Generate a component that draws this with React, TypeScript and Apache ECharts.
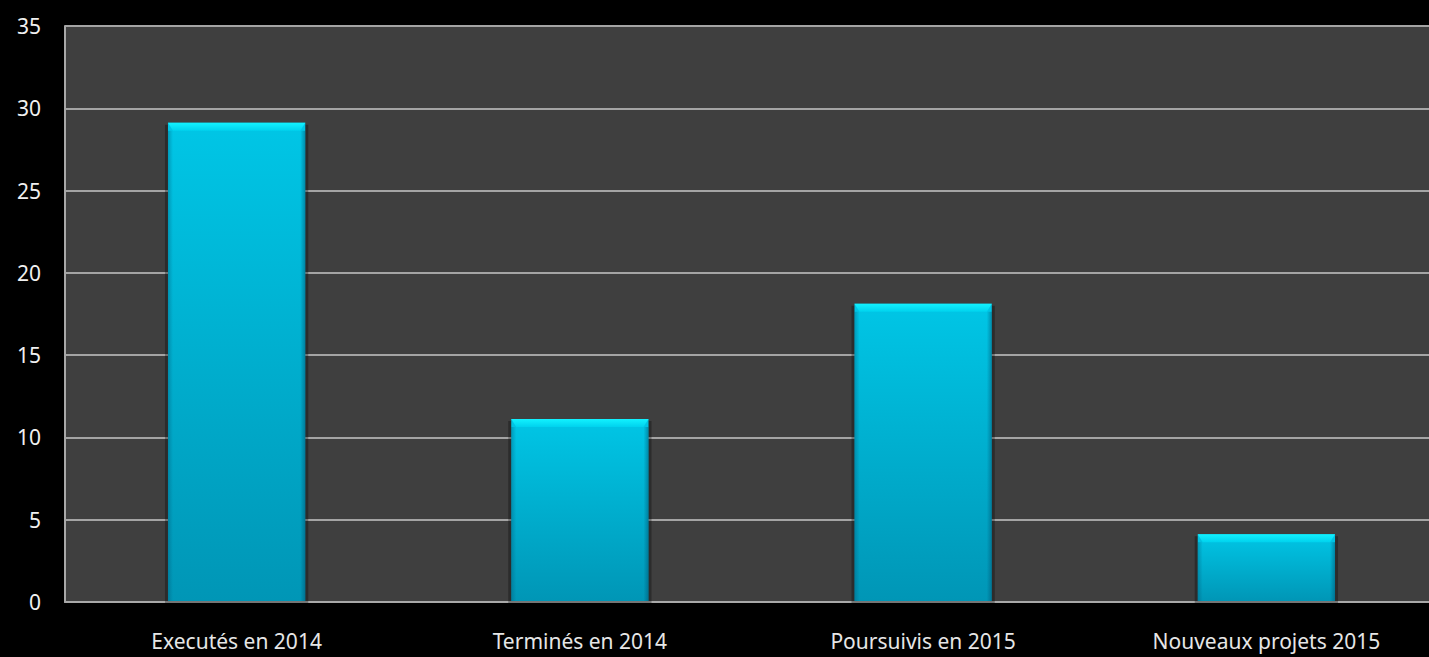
import React, { useEffect, useRef } from "react";
import * as echarts from "echarts";

const categories = ["Executés en 2014", "Terminés en 2014", "Poursuivis en 2015", "Nouveaux projets 2015"];
const values = [29, 11, 18, 4];
const yTicks = { min: 0, max: 35, interval: 5 };

export default function App() {
  const ref = useRef<HTMLDivElement>(null);
  useEffect(() => {
    if (!ref.current) return;
    const chart = echarts.init(ref.current, null, { renderer: "svg" });
    const font = "'Noto Sans', sans-serif";
    chart.setOption({
      animation: false,
      backgroundColor: "#000000",
      grid: {
        left: 65,
        top: 26,
        right: 2,
        height: 576,
        show: true,
        backgroundColor: "#3f3f3f",
        borderWidth: 0,
        containLabel: false,
      },
      xAxis: {
        type: "category",
        data: categories,
        axisLine: { show: true, lineStyle: { color: "#a8a8a8", width: 2 } },
        axisTick: { show: false },
        axisLabel: { color: "#e6e6e6", fontSize: 21, lineHeight: 22, fontFamily: font, margin: 28 },
        splitLine: { show: false },
      },
      yAxis: {
        type: "value",
        min: yTicks.min,
        max: yTicks.max,
        interval: yTicks.interval,
        axisLine: { show: true, lineStyle: { color: "#a8a8a8", width: 2 } },
        axisTick: { show: false },
        axisLabel: { color: "#f0f0f0", fontSize: 21, fontFamily: font, margin: 24 },
        splitLine: {
          show: true,
          lineStyle: { color: "#a4a4a4", width: 2, type: "solid" },
        },
      },
      series: [
        {
          type: "custom",
          data: values.map((v, i) => [i, v]),
          encode: { x: 0, y: 1 },
          z: 5,
          renderItem: (params: any, api: any) => {
            const x = api.value(0);
            const v = api.value(1);
            const top = api.coord([x, v]);
            const base = api.coord([x, 0]);
            const bw = api.size([1, 0])[0] * 0.4;
            const x0 = top[0] - bw / 2;
            const x1 = top[0] + bw / 2;
            const y0 = top[1] - 2;
            const y1 = base[1] - 1;
            const h = y1 - y0;
            const bev = 8;
            const side = 5;
            return {
              type: "group",
              children: [
                {
                  type: "rect",
                  shape: { x: x0 - 3, y: y0 + 2, width: bw + 6, height: h + 18 },
                  style: { fill: "rgba(0,0,0,0.3)" },
                  z2: 0,
                },
                {
                  type: "rect",
                  shape: { x: x0, y: y0, width: bw, height: h },
                  style: {
                    fill: new echarts.graphic.LinearGradient(0, 0, 0, 1, [
                      { offset: 0, color: "#00c6e6" },
                      { offset: 1, color: "#0096b6" },
                    ]),
                  },
                  z2: 1,
                },
                {
                  type: "polygon",
                  shape: { points: [[x0, y0 + bev], [x0 + side, y0 + bev], [x0 + side, y1], [x0, y1]] },
                  style: {
                    fill: new echarts.graphic.LinearGradient(0, 0, 1, 0, [
                      { offset: 0, color: "rgba(0,80,110,0.35)" },
                      { offset: 1, color: "rgba(0,80,110,0)" },
                    ]),
                  },
                  z2: 2,
                },
                {
                  type: "polygon",
                  shape: { points: [[x1 - side, y0 + bev], [x1, y0 + bev], [x1, y1], [x1 - side, y1]] },
                  style: {
                    fill: new echarts.graphic.LinearGradient(0, 0, 1, 0, [
                      { offset: 0, color: "rgba(0,70,100,0)" },
                      { offset: 1, color: "rgba(0,70,100,0.45)" },
                    ]),
                  },
                  z2: 2,
                },
                {
                  type: "polygon",
                  shape: { points: [[x0, y0], [x1, y0], [x1 - side, y0 + bev], [x0 + side, y0 + bev]] },
                  style: {
                    fill: new echarts.graphic.LinearGradient(0, 0, 0, 1, [
                      { offset: 0, color: "#12f2ff" },
                      { offset: 1, color: "#00d2ee" },
                    ]),
                  },
                  z2: 3,
                },
              ],
            };
          },
        },
      ],
    });
    return () => chart.dispose();
  }, []);
  return (
    <div
      ref={ref}
      style={{ position: "fixed", left: 0, top: 0, width: 1440, height: 657, background: "#000" }}
    />
  );
}
